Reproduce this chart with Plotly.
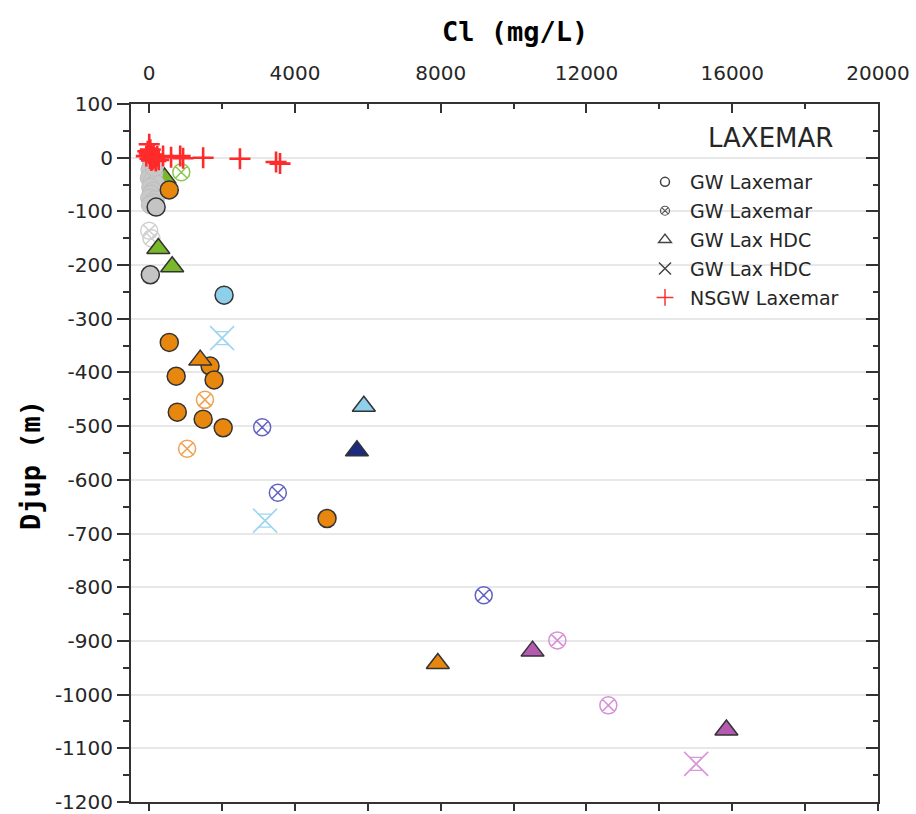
import plotly.graph_objects as go

# ---------------- data (Cl mg/L, depth m) ----------------
# GW Laxemar (filled circles)
gw_gray_cluster_cl = [60, 20, 130, 0, 90, 170, 40, 110, 50, 10, 170, 100, 140, 30]
gw_gray_cluster_depth = [-12, -22, -28, -38, -42, -48, -55, -62, -68, -75, -78, -84, -18, -88]
gw_gray_cl = [190, 30]
gw_gray_depth = [-92, -218]
gw_orange_cl = [550, 550, 740, 1670, 1780, 770, 1480, 2030, 4880]
gw_orange_depth = [-60, -344, -407, -388, -414, -474, -487, -503, -672]
gw_lblue_cl = [2055]
gw_lblue_depth = [-256]

# GW Laxemar (circle-x)
gwx_lgray_cl = [0, 60]
gwx_lgray_depth = [-136, -150]
gwx_green_cl = [880]
gwx_green_depth = [-27]
gwx_orange_cl = [1530, 770, 1040]
gwx_orange_depth = [-451, -474, -542]
gwx_blue_cl = [3100, 3530, 9180]
gwx_blue_depth = [-502, -624, -815]
gwx_pink_cl = [11200, 12600]
gwx_pink_depth = [-899, -1020]

# GW Lax HDC (triangles)
hdc_green_cl = [420, 250, 630]
hdc_green_depth = [-38, -169, -203]
hdc_orange_cl = [1400, 7920]
hdc_orange_depth = [-377, -942]
hdc_lblue_cl = [5890]
hdc_lblue_depth = [-463]
hdc_navy_cl = [5700]
hdc_navy_depth = [-546]
hdc_magenta_cl = [10520, 15840]
hdc_magenta_depth = [-919, -1066]

# GW Lax HDC (x symbols)
hdcx_lblue_cl = [2000, 3180]
hdcx_lblue_depth = [-336, -676]
hdcx_pink_cl = [15010]
hdcx_pink_depth = [-1129]

# NSGW Laxemar (red crosses)
nsgw_cl = [-80, -40, 0, 20, 40, 60, 80, 100, 120, 150, 180, 220, 260, 0, 30, 380, 600, 850, 930, 1480, 2490, 3590, 3480]
nsgw_depth = [3, 12, 8, -2, 5, -5, 2, -3, 6, 0, -6, 2, -4, 25, 15, 3, 1, 3, -1, 0, -2, -11, -8]

x_ticks = [0, 4000, 8000, 12000, 16000, 20000]
x_tick_labels = ["0", "4000", "8000", "12000", "16000", "20000"]
y_ticks = list(range(-1200, 101, 100))
y_tick_labels = [str(v) for v in y_ticks]

legend_title = "LAXEMAR"
legend_names = ["GW Laxemar", "GW Laxemar", "GW Lax HDC", "GW Lax HDC", "NSGW Laxemar"]

# ---------------- figure ----------------
fig = go.Figure()
DARK = "#333333"


def add(xs, ys, symbol, fill, line_color, size, lw=1.5):
    fig.add_trace(go.Scatter(
        x=xs, y=ys, mode="markers", showlegend=False, hoverinfo="skip",
        marker=dict(symbol=symbol, size=size, color=fill,
                    line=dict(color=line_color, width=lw))))


# circle-x open markers
add(gwx_lgray_cl, gwx_lgray_depth, "circle-x-open", "#d0d0d0", "#d0d0d0", 17)
add(gwx_green_cl, gwx_green_depth, "circle-x-open", "#8cc850", "#8cc850", 17)
add(gwx_orange_cl, gwx_orange_depth, "circle-x-open", "#f0a050", "#f0a050", 17)
add(gwx_blue_cl, gwx_blue_depth, "circle-x-open", "#6262c4", "#6262c4", 17)
add(gwx_pink_cl, gwx_pink_depth, "circle-x-open", "#d890d8", "#d890d8", 17)

# x symbols
add(hdcx_lblue_cl, hdcx_lblue_depth, "x-thin-open", "#9ed6f0", "#9ed6f0", 24, 1.6)
add(hdcx_lblue_cl, hdcx_lblue_depth, "hourglass-open", "#9ed6f0", "#9ed6f0", 13, 1.2)
add(hdcx_pink_cl, hdcx_pink_depth, "x-thin-open", "#d898d8", "#d898d8", 24, 1.6)
add(hdcx_pink_cl, hdcx_pink_depth, "hourglass-open", "#d898d8", "#d898d8", 13, 1.2)

# triangles (green first, partly hidden)
add(hdc_green_cl, hdc_green_depth, "triangle-up", "#78b82a", DARK, 20)

# gray cluster circles
add(gw_gray_cluster_cl, gw_gray_cluster_depth, "circle", "#c8c8c8", "#bdbdbd", 18, 1)

# filled circles
add(gw_orange_cl, gw_orange_depth, "circle", "#e8870e", DARK, 18)
add(gw_gray_cl, gw_gray_depth, "circle", "#c4c4c4", DARK, 18)
add(gw_lblue_cl, gw_lblue_depth, "circle", "#8ed0ec", DARK, 18)

add(hdc_orange_cl, hdc_orange_depth, "triangle-up", "#e8870e", DARK, 20)
add(hdc_lblue_cl, hdc_lblue_depth, "triangle-up", "#8ed0ec", DARK, 20)
add(hdc_navy_cl, hdc_navy_depth, "triangle-up", "#1c2a80", DARK, 20)
add(hdc_magenta_cl, hdc_magenta_depth, "triangle-up", "#b45ab0", DARK, 20)

# red crosses
add(nsgw_cl, nsgw_depth, "cross-thin-open", "#ff2a2a", "#ff2a2a", 15, 2.6)

# legend-only entries
leg_specs = [("circle-open", "#444444", 9, 1.5),
             ("circle-x-open", "#555555", 9, 1.2),
             ("triangle-up-open", "#444444", 11, 1.5),
             ("x-thin-open", "#444444", 12, 1.5),
             ("cross-thin-open", "#ff3030", 12, 1.5)]
for i, (name, (sym, col, sz, lw)) in enumerate(zip(legend_names, leg_specs)):
    fig.add_trace(go.Scatter(
        x=[None], y=[None], mode="markers", name=name, showlegend=True,
        legendgroup="g%d" % i,
        marker=dict(symbol=sym, size=sz, color=col, line=dict(color=col, width=lw))))

# dummy trace on secondary axes so they render
fig.add_trace(go.Scatter(x=[None], y=[None], xaxis="x2", yaxis="y2",
                         showlegend=False, hoverinfo="skip"))

TICKFONT = dict(family="DejaVu Sans", size=20, color="#262626")
AX = "#333333"

W, H = 916, 814
ML, MR, MT, MB = 131, 38, 104, 12
PW, PH = W - ML - MR, H - MT - MB


def px(xp):
    return (xp - ML) / PW


def py(yp):
    return (H - MB - yp) / PH


fig.update_layout(
    width=W, height=H,
    margin=dict(l=ML, r=MR, t=MT, b=MB, autoexpand=False),
    paper_bgcolor="white", plot_bgcolor="white",
    xaxis=dict(side="top", range=[-500, 20000], tickvals=x_ticks, ticktext=x_tick_labels,
               ticks="inside", ticklen=9, tickwidth=2, tickcolor=AX,
               minor=dict(dtick=2000, tick0=0, ticks="inside", ticklen=5, tickwidth=2, tickcolor=AX),
               showline=True, linecolor=AX, linewidth=2, showgrid=False, zeroline=False,
               tickfont=TICKFONT, ticklabelstandoff=14, automargin=False,
               ticklabeloverflow="allow"),
    yaxis=dict(range=[-1200, 100], tickvals=y_ticks, ticktext=y_tick_labels,
               ticks="outside", ticklen=12, tickwidth=2, tickcolor=AX,
               minor=dict(dtick=50, tick0=0, ticks="outside", ticklen=6, tickwidth=2, tickcolor=AX,
                          showgrid=False),
               showline=True, linecolor=AX, linewidth=2,
               showgrid=True, gridcolor="#e8e8e8", gridwidth=2, zeroline=False,
               tickfont=TICKFONT, ticklabelstandoff=0, automargin=False,
               ticklabeloverflow="allow"),
    xaxis2=dict(overlaying="x", side="bottom", anchor="y", range=[-500, 20000],
                tickvals=x_ticks, ticks="outside", ticklen=7, tickwidth=2, tickcolor=AX,
                minor=dict(dtick=2000, tick0=0, ticks="outside", ticklen=7, tickwidth=2, tickcolor=AX),
                showticklabels=False, showline=True, linecolor=AX, linewidth=2,
                showgrid=False, zeroline=False, automargin=False),
    yaxis2=dict(overlaying="y", side="right", anchor="x", range=[-1200, 100],
                tickvals=y_ticks, ticks="inside", ticklen=12, tickwidth=2, tickcolor=AX,
                minor=dict(dtick=50, tick0=0, ticks="inside", ticklen=5, tickwidth=2, tickcolor=AX),
                showticklabels=False, showline=True, linecolor=AX, linewidth=2,
                showgrid=False, zeroline=False, automargin=False),
    legend=dict(x=px(640), y=py(163), xanchor="left", yanchor="top",
                bgcolor="rgba(0,0,0,0)", borderwidth=0,
                font=dict(family="DejaVu Sans", size=19, color="#262626"),
                itemwidth=40, tracegroupgap=1.2),
    annotations=[
        dict(text="<b>Cl (mg/L)</b>", xref="paper", yref="paper",
             x=px(515), y=py(32), xanchor="center", yanchor="middle",
             showarrow=False, font=dict(family="DejaVu Sans Mono", size=27, color="black")),
        dict(text="<b>Djup (m)</b>", xref="paper", yref="paper", textangle=-90,
             x=px(30), y=py(465), xanchor="center", yanchor="middle",
             showarrow=False, font=dict(family="DejaVu Sans Mono", size=27, color="black")),
        dict(text=legend_title, xref="paper", yref="paper",
             x=px(770), y=py(138), xanchor="center", yanchor="middle",
             showarrow=False, font=dict(family="DejaVu Sans", size=26, color="#262626")),
    ],
)

fig.write_html("out.html")
